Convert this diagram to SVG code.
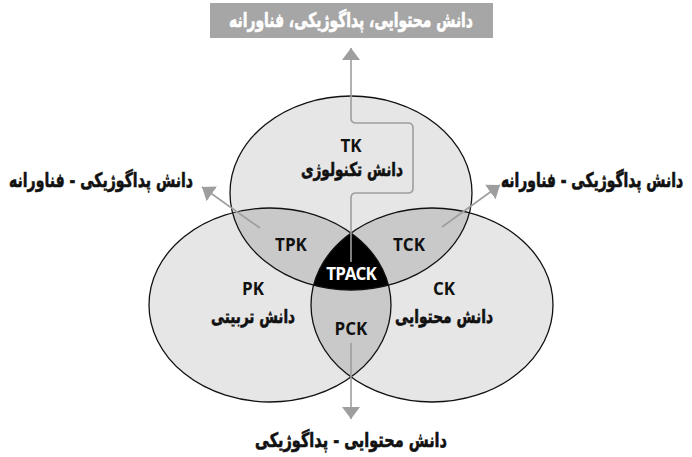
<svg xmlns="http://www.w3.org/2000/svg" width="692" height="457" viewBox="0 0 692 457">
<style>
.lat{font-family:"Open Sans","DejaVu Sans",sans-serif;font-weight:700;font-size:17px;text-anchor:middle;fill:#111}
.fa{font-family:"DejaVu Sans",sans-serif;font-weight:700;font-size:19px;text-anchor:middle;fill:#111;stroke:#111;stroke-width:0.6}
.side{font-size:20px}
.wt{fill:#fff;stroke:#fff}
.conn{fill:none;stroke:#9e9e9e;stroke-width:1.6}
.outline{fill:none;stroke:#111;stroke-width:1.3}
.single{fill:#e6e6e6}
.pair{fill:#c9c9c9}
</style>
<defs>
<ellipse id="eT" cx="351" cy="193" rx="121" ry="97"/>
<ellipse id="eP" cx="270" cy="305" rx="121" ry="97"/>
<ellipse id="eC" cx="432" cy="305" rx="121" ry="97"/>
<clipPath id="cT"><use href="#eT"/></clipPath>
<clipPath id="cP"><use href="#eP"/></clipPath>
<clipPath id="cC"><use href="#eC"/></clipPath>
<clipPath id="cTP" clip-path="url(#cP)"><use href="#eT"/></clipPath>
<marker id="arr" markerUnits="userSpaceOnUse" viewBox="0 0 12 18" markerWidth="12" markerHeight="18" refX="12" refY="9" orient="auto">
<path d="M0,0 L12,9 L0,18 z" fill="#9e9e9e"/>
</marker>
</defs>
<rect width="692" height="457" fill="#fff"/>
<g id="circles">
<use href="#eP" class="single"/>
<use href="#eC" class="single"/>
<use href="#eT" class="single"/>
</g>
<g id="overlaps">
<use href="#eP" class="pair" clip-path="url(#cT)"/>
<use href="#eC" class="pair" clip-path="url(#cT)"/>
<use href="#eC" class="pair" clip-path="url(#cP)"/>
<use href="#eC" fill="#000" clip-path="url(#cTP)"/>
</g>
<g id="outlines">
<use href="#eT" class="outline"/>
<use href="#eP" class="outline"/>
<use href="#eC" class="outline"/>
</g>
<g id="connectors">
<path class="conn" marker-end="url(#arr)" d="M351,262 V198 Q351,193 356,193 H408 Q413,193 413,188 V128 Q413,123 408,123 H356 Q351,123 351,118 V48"/>
<path class="conn" marker-end="url(#arr)" d="M260,228 L202,187"/>
<path class="conn" marker-end="url(#arr)" d="M442,227 L500,185"/>
<path class="conn" marker-end="url(#arr)" d="M351,343 L351,419"/>
</g>
<g id="node-TK">
<text class="lat" x="351" y="152">TK</text>
<text class="fa" x="352" y="176" textLength="102" lengthAdjust="spacingAndGlyphs">دانش تکنولوژی</text>
</g>
<g id="node-PK">
<text class="lat" x="253" y="295">PK</text>
<text class="fa" x="253" y="323" textLength="84" lengthAdjust="spacingAndGlyphs">دانش تربیتی</text>
</g>
<g id="node-CK">
<text class="lat" x="444" y="295">CK</text>
<text class="fa" x="444" y="323" textLength="98" lengthAdjust="spacingAndGlyphs">دانش محتوایی</text>
</g>
<g id="node-TPK"><text class="lat" x="291" y="251">TPK</text></g>
<g id="node-TCK"><text class="lat" x="409" y="251">TCK</text></g>
<g id="node-PCK"><text class="lat" x="351" y="335">PCK</text></g>
<g id="node-TPACK"><text class="lat" x="351" y="280" style="fill:#fff;letter-spacing:-1px">TPACK</text></g>
<g id="node-top">
<rect x="210" y="3" width="283" height="35" fill="#a6a6a6"/>
<text class="fa side wt" x="351" y="27" textLength="244" lengthAdjust="spacingAndGlyphs">دانش محتوایی، پداگوژیکی، فناورانه</text>
</g>
<g id="node-left"><text class="fa side" x="101" y="187" textLength="184" lengthAdjust="spacingAndGlyphs">دانش پداگوژیکی - فناورانه</text></g>
<g id="node-right" transform="translate(592,187) scale(0.68,1)"><text class="fa side" x="0" y="0" textLength="268" lengthAdjust="spacingAndGlyphs" style="stroke-width:0.7">دانش پداگوژیکی - فناورانه</text></g>
<g id="node-bottom"><text class="fa side" x="351" y="447" textLength="192" lengthAdjust="spacingAndGlyphs">دانش محتوایی - پداگوژیکی</text></g>
</svg>
